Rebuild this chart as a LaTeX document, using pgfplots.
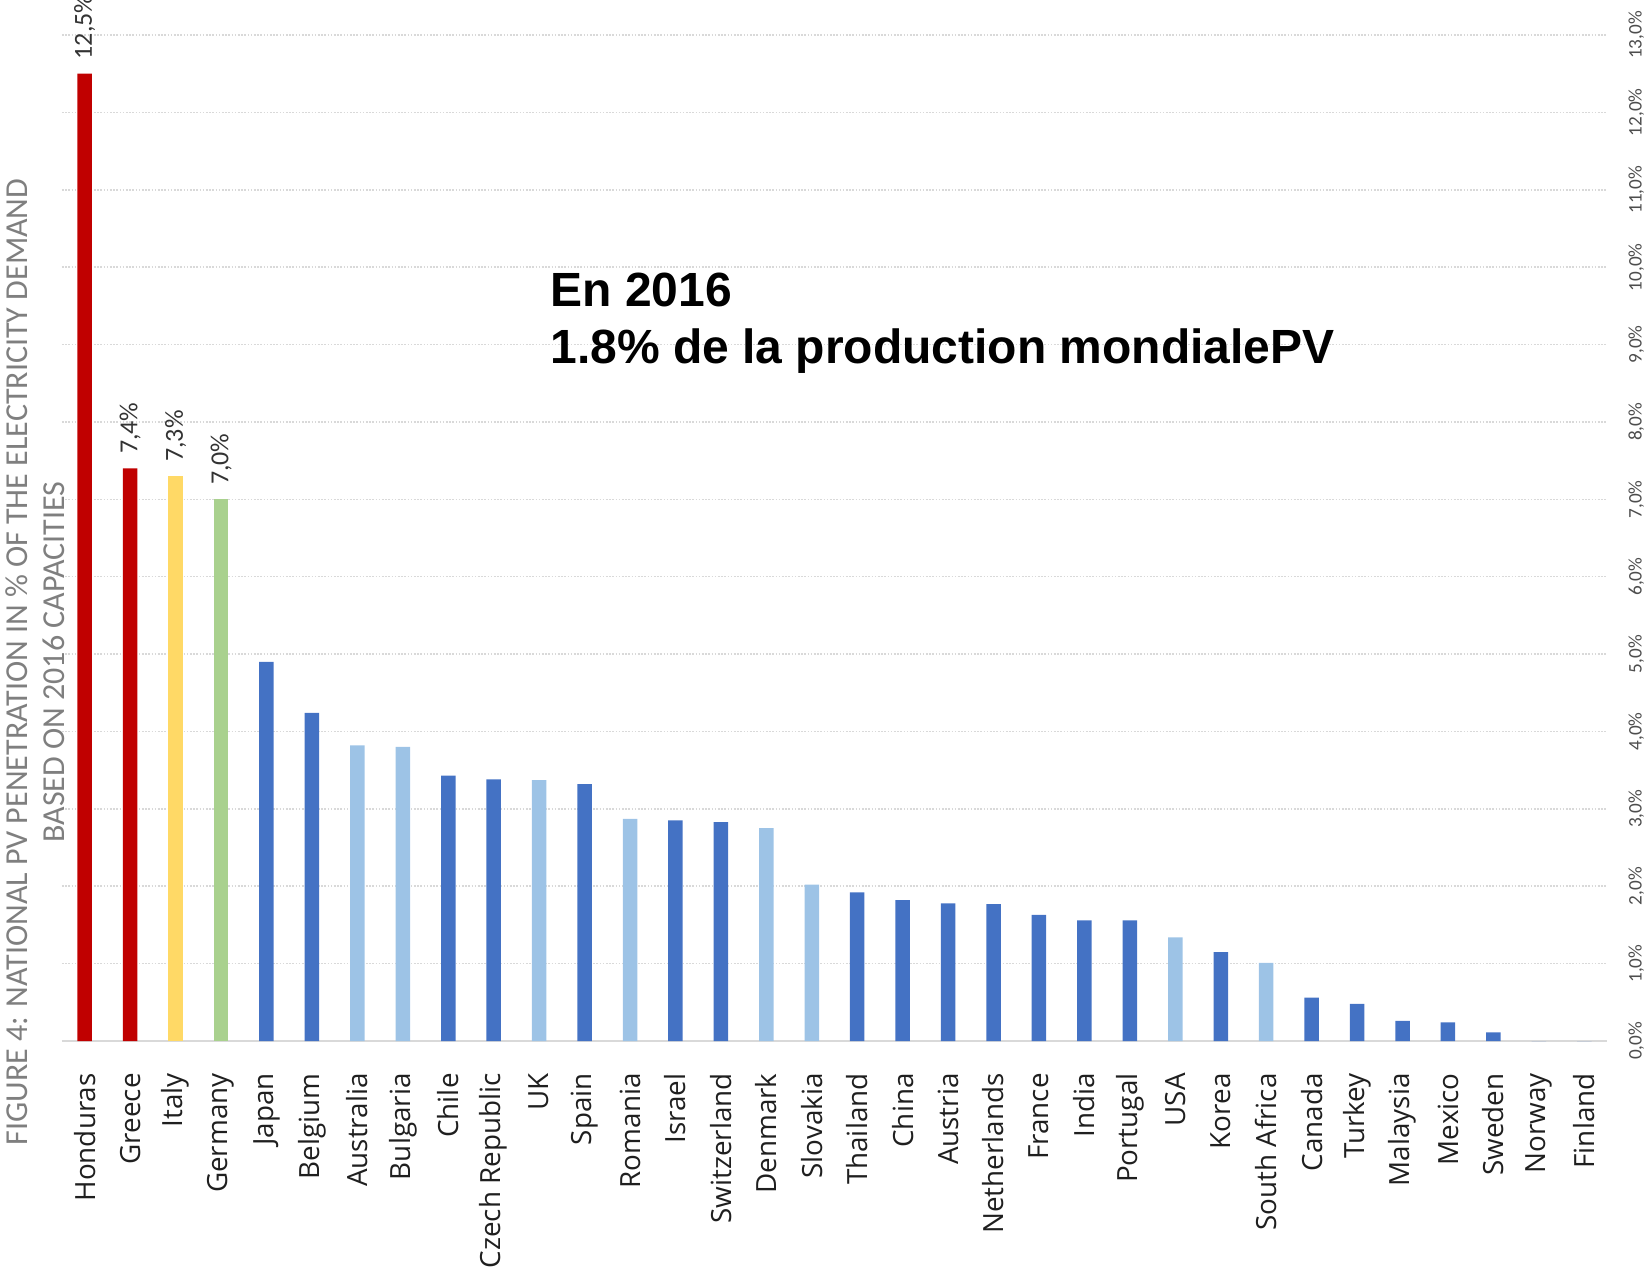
\documentclass[border=0pt]{standalone}
\usepackage{fontspec}
\setmainfont{Carlito}
\newfontfamily\labelfont{Open Sans}
\newfontfamily\notefont{Liberation Sans}
\usepackage{pgfplots}
\pgfplotsset{compat=1.18}

\definecolor{barRed}{HTML}{C00000}
\definecolor{barYellow}{HTML}{FFD966}
\definecolor{barGreen}{HTML}{A9D18E}
\definecolor{barBlue}{HTML}{4472C4}
\definecolor{barLight}{HTML}{9DC3E6}
\definecolor{gridgray}{HTML}{D9D9D9}
\definecolor{tickgray}{HTML}{4D4D4D}
\definecolor{valgray}{HTML}{333333}
\definecolor{titlegray}{HTML}{7F7F7F}
\definecolor{labelblack}{HTML}{1F1F1F}

\newcommand{\pctlabel}[1]{\pgfmathprintnumber[fixed,fixed zerofill,precision=1,use comma,assume math mode=true]{#1}\%}

\begin{document}
\begin{tikzpicture}
\path[use as bounding box] (-31pt,-113.5pt) rectangle (793.5pt,520.5pt);
\begin{axis}[
  at={(0pt,0pt)}, anchor=south west,
  width=772.5pt, height=503pt, scale only axis,
  xmin=-0.5, xmax=33.5, ymin=0, ymax=13,
  enlargelimits=false, clip=false,
  axis x line*=bottom, axis y line*=right,
  x axis line style={draw=gridgray, line width=1pt},
  y axis line style={draw=none},
  ymajorgrids,
  major grid style={draw=gridgray, line width=0.8pt, dash pattern=on 0.8pt off 0.8pt},
  major tick length=0pt, tick style={draw=none},
  xtick={0,...,33},
  xticklabels={Honduras,Greece,Italy,Germany,Japan,Belgium,Australia,Bulgaria,Chile,Czech Republic,UK,Spain,Romania,Israel,Switzerland,Denmark,Slovakia,Thailand,China,Austria,Netherlands,France,India,Portugal,USA,Korea,South Africa,Canada,Turkey,Malaysia,Mexico,Sweden,Norway,Finland},
  xticklabel style={font=\labelfont\fontsize{13.9}{15}\selectfont, text=labelblack, rotate=90, anchor=east, inner sep=0pt},
  xticklabel shift=16pt,
  ytick={0,...,13},
  yticklabel={\pctlabel{\tick}},
  yticklabel style={font=\fontsize{9.6}{10}\selectfont, text=tickgray, rotate=90, anchor=north, inner sep=0pt},
  yticklabel shift=10.5pt,
  every node near coord/.append style={rotate=90, anchor=west, inner xsep=7pt, inner ysep=0pt, font=\fontsize{13}{14}\selectfont, text=valgray},
]
% highlighted countries, with their values written above the bars
\addplot[ybar, bar width=7.25pt, bar shift=0pt, draw=none, fill=barRed,
  nodes near coords={\pctlabel{\pgfplotspointmeta}}]
  coordinates {(0,12.5) (1,7.4)};
\addplot[ybar, bar width=7.25pt, bar shift=0pt, draw=none, fill=barYellow,
  nodes near coords={\pctlabel{\pgfplotspointmeta}}]
  coordinates {(2,7.3)};
\addplot[ybar, bar width=7.25pt, bar shift=0pt, draw=none, fill=barGreen,
  nodes near coords={\pctlabel{\pgfplotspointmeta}}]
  coordinates {(3,7.0)};
% dark blue group
\addplot[ybar, bar width=7.25pt, bar shift=0pt, draw=none, fill=barBlue]
  coordinates {(4,4.90) (5,4.24) (8,3.43) (9,3.38) (11,3.32) (13,2.85) (14,2.83)
    (17,1.92) (18,1.82) (19,1.78) (20,1.77) (21,1.63) (22,1.56) (23,1.56)
    (25,1.15) (27,0.56) (28,0.48) (29,0.26) (30,0.24) (31,0.11) (32,0) (33,0)};
% light blue group
\addplot[ybar, bar width=7.25pt, bar shift=0pt, draw=none, fill=barLight]
  coordinates {(6,3.82) (7,3.80) (10,3.37) (12,2.87) (15,2.75) (16,2.02)
    (24,1.34) (26,1.01)};
\end{axis}

% figure caption, set vertically on the left
\node[rotate=90, anchor=base, inner sep=0pt, font=\fontsize{16}{18}\selectfont, text=titlegray]
  at (-17pt,189.5pt) {FIGURE 4: NATIONAL PV PENETRATION IN \% OF THE ELECTRICITY DEMAND};
\node[rotate=90, anchor=base, inner sep=0pt, font=\fontsize{16}{18}\selectfont, text=titlegray]
  at (1.5pt,189.5pt) {BASED ON 2016 CAPACITIES};

% annotation
\node[anchor=base west, inner sep=0pt, font=\notefont\bfseries\fontsize{24}{28}\selectfont]
  at (244pt,367pt) {En 2016};
\node[anchor=base west, inner sep=0pt, font=\notefont\bfseries\fontsize{24}{28}\selectfont]
  at (244pt,338.5pt) {1.8\% de la production mondialePV};
\end{tikzpicture}
\end{document}
